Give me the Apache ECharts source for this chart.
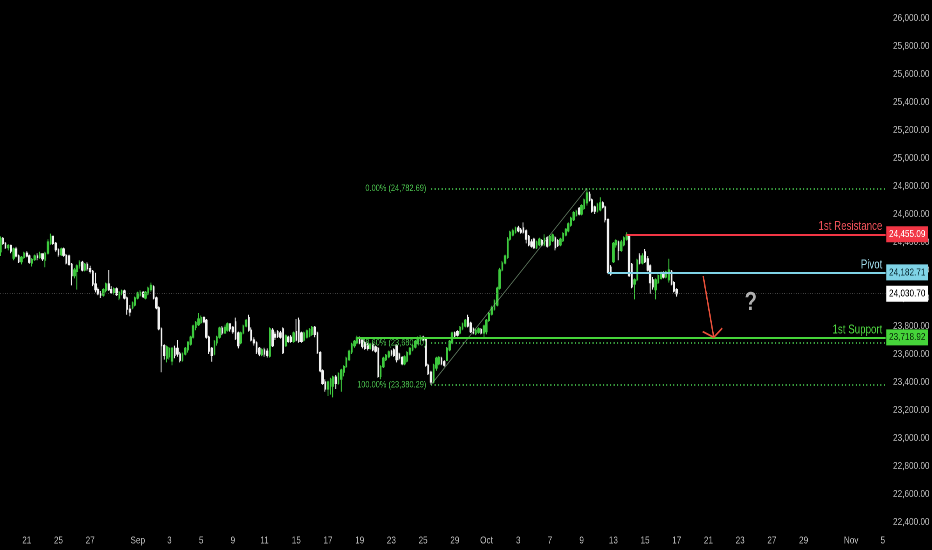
<!DOCTYPE html>
<html><head><meta charset="utf-8">
<script src="https://cdn.jsdelivr.net/npm/echarts@6/dist/echarts.min.js"></script>
<style>html,body{margin:0;padding:0;background:#000;overflow:hidden;width:932px;height:550px}#c{height:550px;transform-origin:0 0}</style>
</head><body><div id="c"></div>
<script>
// ---------- data ----------
const tradingDays = [
 '2025-08-19','2025-08-20','2025-08-21','2025-08-22',
 '2025-08-25','2025-08-26','2025-08-27','2025-08-28','2025-08-29',
 '2025-09-01','2025-09-02','2025-09-03','2025-09-04','2025-09-05',
 '2025-09-08','2025-09-09','2025-09-10','2025-09-11','2025-09-12',
 '2025-09-15','2025-09-16','2025-09-17','2025-09-18','2025-09-19',
 '2025-09-22','2025-09-23','2025-09-24','2025-09-25','2025-09-26',
 '2025-09-29','2025-09-30','2025-10-01','2025-10-02','2025-10-03',
 '2025-10-06','2025-10-07','2025-10-08','2025-10-09','2025-10-10',
 '2025-10-13','2025-10-14','2025-10-15','2025-10-16','2025-10-17',
 '2025-10-20','2025-10-21','2025-10-22','2025-10-23','2025-10-24',
 '2025-10-27','2025-10-28','2025-10-29','2025-10-30','2025-10-31',
 '2025-11-03','2025-11-04','2025-11-05'
];
const barHours = ['00:00','04:00','08:00','12:00','16:00','20:00'];
const firstBarOffset = 2;     // chart starts at the 3rd 4h bar of Aug 19
const totalSlots = 336;       // bars + empty future slots
const tickDays = ['2025-08-21','2025-08-25','2025-08-27','2025-09-01','2025-09-03','2025-09-05','2025-09-09','2025-09-11','2025-09-15','2025-09-17','2025-09-19','2025-09-23','2025-09-25','2025-09-29','2025-10-01','2025-10-03','2025-10-07','2025-10-09','2025-10-13','2025-10-15','2025-10-17','2025-10-21','2025-10-23','2025-10-27','2025-10-29','2025-11-03','2025-11-05'];
const tickTexts = ['21','25','27','Sep','3','5','9','11','15','17','19','23','25','29','Oct','3','7','9','13','15','17','21','23','27','29','Nov','5'];

// [open, close, low, high]
const candles = [
 [24330,24425,24300,24440],[24425,24390,24380,24435],[24390,24360,24350,24400],[24360,24375,24340,24385],[24375,24335,24320,24380],
 [24285,24350,24270,24360],[24350,24300,24290,24365],[24300,24260,24250,24310],[24260,24290,24240,24300],[24290,24320,24280,24330],
 [24320,24300,24290,24335],[24300,24255,24245,24310],[24250,24275,24225,24285],[24275,24300,24265,24310],[24300,24290,24270,24320],
 [24290,24315,24280,24330],[24315,24280,24265,24320],[24270,24320,24220,24330],[24320,24400,24310,24420],[24390,24440,24380,24460],
 [24440,24390,24380,24445],[24390,24345,24330,24400],[24345,24310,24295,24355],[24310,24350,24300,24360],[24350,24305,24295,24360],
 [24305,24250,24240,24315],[24300,24240,24230,24310],[24240,24160,24090,24250],[24160,24200,24140,24215],[24190,24230,24060,24240],
 [24230,24255,24210,24270],[24255,24200,24190,24265],[24200,24240,24190,24250],[24240,24210,24195,24255],[24210,24190,24175,24230],
 [24190,24100,24085,24200],[24100,24060,24040,24180],[24060,24030,24020,24075],[24030,24020,24000,24050],[24020,24060,24010,24070],
 [24055,24100,24040,24110],[24100,24060,24050,24200],[24060,24040,24030,24085],[24040,24065,24025,24075],[24065,24025,24015,24075],
 [24000,24040,23985,24050],[24040,24050,24020,24060],[24050,24000,23990,24060],[24000,23920,23880,24010],[23920,23900,23870,23950],
 [23930,23965,23920,23975],[23950,24000,23940,24010],[24000,24035,23990,24045],[24020,24040,24010,24055],[24040,24010,24000,24050],
 [24000,24040,23990,24050],[24030,24070,24020,24080],[24060,24090,24045,24110],[24080,24000,23990,24090],[24000,23930,23920,24010],
 [23930,23780,23770,23940],[23780,23660,23470,23790],[23660,23590,23560,23670],[23570,23650,23540,23660],[23580,23640,23560,23650],
 [23550,23640,23520,23650],[23640,23590,23570,23660],[23640,23600,23580,23700],[23600,23555,23540,23615],[23555,23600,23545,23612],
 [23600,23640,23590,23650],[23630,23685,23610,23690],[23670,23720,23660,23730],[23720,23800,23710,23810],[23790,23825,23770,23835],
 [23810,23850,23800,23893],[23825,23860,23815,23875],[23860,23830,23820,23870],[23840,23720,23710,23850],[23720,23620,23600,23730],
 [23640,23590,23545,23650],[23600,23690,23590,23700],[23680,23720,23660,23730],[23720,23785,23710,23795],[23785,23750,23735,23800],
 [23750,23790,23745,23810],[23770,23815,23760,23825],[23815,23780,23760,23820],[23790,23760,23745,23800],[23830,23710,23700,23860],
 [23750,23660,23640,23760],[23680,23750,23670,23760],[23750,23800,23740,23810],[23800,23840,23790,23850],[23860,23770,23760,23880],
 [23770,23700,23690,23790],[23700,23680,23660,23720],[23680,23615,23600,23690],[23640,23600,23585,23650],[23595,23630,23585,23640],
 [23630,23600,23580,23645],[23620,23590,23575,23640],[23585,23780,23575,23790],[23770,23660,23650,23785],[23740,23720,23700,23760],
 [23760,23725,23715,23770],[23750,23720,23710,23765],[23780,23610,23600,23790],[23660,23730,23650,23740],[23720,23690,23680,23730],
 [23720,23690,23680,23735],[23690,23750,23680,23760],[23760,23700,23690,23850],[23840,23690,23680,23860],[23750,23690,23680,23760],
 [23700,23750,23690,23760],[23720,23765,23710,23775],[23730,23775,23720,23785],[23740,23790,23730,23800],[23790,23740,23720,23800],
 [23750,23610,23600,23760],[23610,23480,23470,23620],[23480,23390,23380,23490],[23400,23350,23330,23420],[23350,23400,23300,23410],
 [23370,23420,23310,23430],[23370,23435,23290,23445],[23435,23390,23350,23450],[23390,23460,23380,23470],[23420,23485,23330,23495],
 [23470,23510,23440,23520],[23510,23570,23500,23580],[23560,23620,23550,23630],[23615,23670,23600,23680],[23660,23690,23645,23700],
 [23680,23715,23670,23730],[23715,23680,23670,23725],[23700,23655,23640,23710],[23680,23640,23630,23690],[23670,23640,23625,23680],
 [23640,23670,23630,23680],[23670,23630,23620,23680],[23650,23620,23610,23660],[23640,23440,23430,23650],[23440,23510,23420,23520],
 [23510,23570,23500,23580],[23560,23590,23550,23600],[23580,23615,23570,23625],[23620,23600,23585,23630],[23630,23590,23580,23640],
 [23660,23560,23540,23670],[23600,23570,23555,23610],[23575,23530,23520,23585],[23530,23580,23520,23590],[23550,23610,23540,23620],
 [23600,23640,23590,23650],[23630,23660,23620,23670],[23650,23690,23640,23700],[23680,23715,23670,23725],[23700,23720,23690,23736],
 [23720,23700,23690,23730],[23710,23520,23510,23720],[23520,23460,23450,23530],[23470,23400,23380.29,23480],[23400,23520,23390,23530],
 [23500,23570,23480,23580],[23530,23575,23520,23585],[23570,23530,23520,23580],[23545,23520,23510,23555],[23555,23640,23550,23650],
 [23630,23690,23620,23700],[23680,23750,23670,23760],[23750,23730,23720,23760],[23760,23735,23725,23770],[23750,23790,23740,23800],
 [23780,23815,23770,23825],[23800,23840,23790,23850],[23860,23800,23790,23880],[23820,23760,23750,23830],[23780,23750,23740,23790],
 [23745,23770,23735,23780],[23755,23780,23745,23790],[23775,23750,23740,23785],[23750,23800,23720,23810],[23760,23840,23740,23850],
 [23840,23890,23830,23900],[23885,23930,23875,23945],[23920,23980,23910,23990],[23950,24070,23940,24080],[24070,24200,24060,24215],
 [24200,24250,24190,24265],[24250,24300,24240,24310],[24290,24420,24280,24435],[24420,24470,24410,24480],[24450,24480,24440,24495],
 [24470,24500,24460,24510],[24500,24480,24470,24515],[24485,24470,24460,24500],[24500,24470,24460,24540],[24480,24420,24390,24490],
 [24440,24380,24370,24450],[24400,24370,24360,24420],[24420,24360,24350,24430],[24360,24400,24350,24410],[24380,24420,24370,24430],
 [24410,24380,24370,24420],[24380,24425,24370,24455],[24430,24370,24360,24440],[24380,24440,24370,24450],[24410,24450,24400,24460],
 [24430,24360,24340,24440],[24410,24375,24365,24420],[24380,24420,24370,24430],[24410,24460,24400,24470],[24450,24490,24440,24500],
 [24480,24530,24470,24540],[24520,24570,24510,24580],[24560,24610,24550,24620],[24590,24620,24580,24630],[24640,24600,24590,24650],
 [24600,24660,24590,24670],[24640,24700,24630,24710],[24680,24750,24660,24782.69],[24740,24700,24690,24760],[24700,24620,24610,24710],
 [24650,24620,24600,24660],[24620,24670,24610,24680],[24630,24680,24620,24720],[24680,24650,24640,24690],[24650,24560,24540,24660],
 [24560,24183,24170,24570],[24220,24170,24160,24235],[24260,24390,24250,24400],[24380,24410,24360,24420],[24400,24340,24270,24410],
 [24340,24400,24330,24415],[24380,24430,24370,24440],[24420,24450,24410,24470],[24450,24160,24150,24455],[24240,24080,24070,24250],
 [24100,24130,23990,24140],[24130,24270,24120,24280],[24300,24250,24240,24320],[24250,24300,24240,24320],[24330,24260,24250,24350],
 [24280,24200,24190,24300],[24230,24110,24030,24240],[24130,24080,24060,24150],[24060,24130,23990,24140],[24110,24160,24100,24170],
 [24140,24180,24130,24190],[24180,24150,24140,24190],[24150,24185,24140,24195],[24130,24200,24110,24280],[24190,24100,24090,24200],
 [24110,24050,24040,24120],[24060,24030.70,24010,24070]
];

// annotation levels
const resistanceLevel = 24455.09;
const pivotLevel = 24182.71;
const supportLevel = 23718.92;
const lastPrice = 24030.70;
const fibPrices = [24782.69, 23680.40, 23380.29];
const fibTexts = ['0.00% (24,782.69)', '78.60% (23,680.40)', '100.00% (23,380.29)'];
// anchors (bar slots)
const resistanceFrom = 237, pivotFrom = 230, supportFrom = 135, fibFrom = 163, fibHighBar = 222;
const arrowFrom = [266, 24157], arrowTo = [270, 23718.92];
const questionAt = [284, 23965];

// ---------- layout (the picture is horizontally condensed) ----------
const SX = 0.78;
const W = 932 / SX;
const dom = document.getElementById('c');
dom.style.width = W + 'px';
dom.style.transform = 'scaleX(' + SX + ')';
const plotLeft = -1 / SX, plotRight = 886.7 / SX;

// ---------- build ----------
const categories = [];
for (let i = 0; i < totalSlots; i++) {
  const k = i + firstBarOffset;
  categories.push(tradingDays[Math.floor(k / 6)] + ' ' + barHours[k % 6]);
}
const tickMap = {};
tickDays.forEach((d, j) => { tickMap[d + ' 00:00'] = tickTexts[j]; });
const lastSlot = totalSlots - 1;
const fmt = v => v.toLocaleString('en-US', {minimumFractionDigits: 2, maximumFractionDigits: 2});
const FONT = "'Liberation Sans',Arial,sans-serif";

function level(value, from, color, name, nameColor, boxText, z) {
  const ls = {color: color, width: 2, type: 'solid'};
  return {
    type: 'line', data: [], z: z, silent: true,
    markLine: {
      silent: true, animation: false, symbol: ['none', 'none'],
      data: [
        [{coord: [from, value], lineStyle: ls,
          label: {show: true, position: 'insideEndTop', formatter: name, color: nameColor, fontSize: 12.5, fontFamily: FONT, distance: [4, 1]}},
         {coord: [lastSlot, value]}],
        [{coord: [from, value], lineStyle: ls,
          label: {show: true, position: 'end', formatter: fmt(value), backgroundColor: color, color: boxText, fontSize: 10.5, fontFamily: FONT, padding: [3, 3.5, 2, 3.5], distance: 1}},
         {coord: [lastSlot, value]}]
      ]
    }
  };
}

const fibSeries = {
  type: 'line', data: [], z: 1, silent: true,
  markLine: {
    silent: true, animation: false, symbol: ['none', 'none'],
    data: fibPrices.map((p, i) => [
      {coord: [fibFrom, p], lineStyle: {color: '#43b849', width: 1.7, type: [1.5, 3]},
       label: {show: true, position: 'start', formatter: fibTexts[i], color: '#4cc24f', fontSize: 9.5, fontFamily: FONT, distance: 6}},
      {coord: [lastSlot, p]}
    ]).concat([[
      {coord: [fibFrom, fibPrices[2]], lineStyle: {color: 'rgba(150,190,150,0.6)', width: 1, type: 'solid'}, label: {show: false}},
      {coord: [fibHighBar, fibPrices[0]]}
    ]])
  }
};

const priceLine = {
  type: 'line', data: [], z: 1, silent: true,
  markLine: {
    silent: true, animation: false, symbol: ['none', 'none'],
    data: [[
      {coord: [0, lastPrice], lineStyle: {color: '#4a4a4a', width: 1, type: [1, 2]},
       label: {show: true, position: 'end', formatter: fmt(lastPrice), backgroundColor: '#ffffff', color: '#000', fontSize: 10.5, fontFamily: FONT, padding: [3, 3.5, 2, 3.5], distance: 1}},
      {coord: [lastSlot, lastPrice]}
    ]]
  }
};

const chart = echarts.init(dom, null, {renderer: 'canvas', devicePixelRatio: 2});
chart.setOption({
  backgroundColor: '#000000',
  animation: false,
  grid: {left: plotLeft, right: W - plotRight, top: 18, bottom: 28, containLabel: false, outerBoundsMode: 'none'},
  xAxis: {
    type: 'category', data: categories, boundaryGap: true,
    axisLine: {show: false}, axisTick: {show: false}, splitLine: {show: false},
    axisLabel: {
      interval: (idx, val) => tickMap[val] !== undefined,
      formatter: (val) => tickMap[val] || '',
      color: '#bdbdbd', fontSize: 10.5, fontFamily: FONT, margin: 13
    }
  },
  yAxis: {
    type: 'value', position: 'right', min: 22400, max: 26000, interval: 200,
    axisLine: {show: false}, axisTick: {show: false}, splitLine: {show: false},
    axisLabel: {formatter: v => fmt(v), color: '#bdbdbd', fontSize: 10.5, fontFamily: FONT, margin: 8}
  },
  series: [
    priceLine,
    fibSeries,
    {
      type: 'candlestick', data: candles, z: 2, barWidth: 2.0,
      itemStyle: {color: '#3ec93e', color0: '#f2f2f2', borderColor: '#3ec93e', borderColor0: '#f2f2f2', borderWidth: 1.2}
    },
    level(resistanceLevel, resistanceFrom, '#f23645', '1st Resistance', '#f0525a', '#ffffff', 4),
    level(pivotLevel, pivotFrom, '#7fd3e6', 'Pivot', '#9fdcec', '#0a2a33', 4),
    level(supportLevel, supportFrom, '#46d43a', '1st Support', '#4fd641', '#0a2a0a', 4),
    {
      type: 'custom', z: 5, silent: true,
      data: [[arrowFrom[0], arrowFrom[1], arrowTo[0], arrowTo[1]]],
      encode: {x: [0, 2], y: [1, 3]},
      renderItem: function (params, api) {
        const p1 = api.coord([api.value(0), api.value(1)]);
        const p2 = api.coord([api.value(2), api.value(3)]);
        // arrow head built in on-screen (condensed) space
        const v1 = [p1[0] * SX, p1[1]], v2 = [p2[0] * SX, p2[1]];
        const ang = Math.atan2(v2[1] - v1[1], v2[0] - v1[0]);
        const L = 12.5, sp = 0.92;
        const a1 = [(v2[0] - L * Math.cos(ang - sp)) / SX, v2[1] - L * Math.sin(ang - sp)];
        const a2 = [(v2[0] - L * Math.cos(ang + sp)) / SX, v2[1] - L * Math.sin(ang + sp)];
        const st = {stroke: '#e8503a', lineWidth: 1.8, fill: null};
        return {type: 'group', children: [
          {type: 'line', shape: {x1: p1[0], y1: p1[1], x2: p2[0], y2: p2[1]}, style: st},
          {type: 'polyline', shape: {points: [a1, p2, a2]}, style: st}
        ]};
      }
    },
    {
      type: 'scatter', z: 5, silent: true, symbolSize: 1, itemStyle: {color: 'rgba(0,0,0,0)'},
      data: [questionAt],
      label: {show: true, position: 'inside', formatter: '?', color: '#d9d9d9', fontSize: 26, fontWeight: 'bold', fontFamily: FONT}
    }
  ]
});
</script></body></html>
